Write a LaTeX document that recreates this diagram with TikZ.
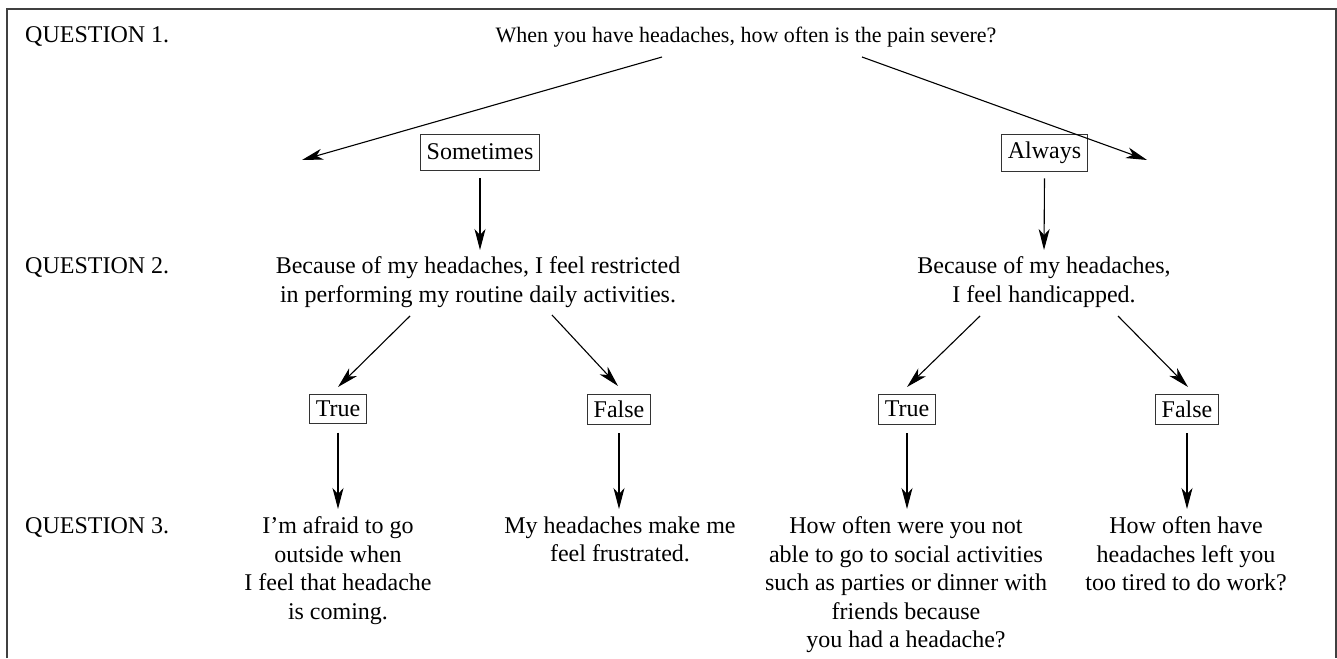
\documentclass[tikz,border=0pt]{standalone}
\usepackage{fontspec}
\setmainfont{Liberation Serif}
\usetikzlibrary{arrows.meta}
\begin{document}
\begin{tikzpicture}[x=1pt,y=-1pt,
  txt/.style={align=center,inner sep=0pt,font=\fontsize{24}{28.5}\selectfont},
  lbl/.style={anchor=base west,inner sep=0pt,font=\fontsize{24}{28.5}\selectfont},
  ans/.style={draw=black!80,line width=0.9pt,inner xsep=6.5pt,inner ysep=2pt,font=\fontsize{24}{28.5}\selectfont},
  arr/.style={line width=1.1pt,-{Stealth[length=21pt,width=11pt,inset=6pt]}},
  frame/.style={line width=1.3pt,draw=black!75}]
\useasboundingbox (0,0) rectangle (1337,658);
% frame (open at the bottom)
\coordinate (fbl) at (7,658);
\coordinate (ftl) at (7,9);
\coordinate (ftr) at (1336,9);
\coordinate (fbr) at (1336,658);
\draw[frame] (fbl) -- (ftl) -- (ftr) -- (fbr);
% row labels
\node[lbl] (l1) at (25,43) {QUESTION 1.};
\node[lbl] (l2) at (25,273) {QUESTION 2.};
\node[lbl] (l3) at (25,533) {QUESTION 3.};
% question 1
\node[txt,anchor=base,font=\fontsize{22}{26}\selectfont] (q1) at (746,43) {When you have headaches, how often is the pain severe?};
\node[ans,minimum height=36pt] (some) at (480,152) {Sometimes};
\node[ans,minimum height=37pt] (alw) at (1044.5,152.5) {Always};
% question 2
\node[txt,anchor=north] (q2a) at (478,256.6) {Because of my headaches, I feel restricted\\in performing my routine daily activities.};
\node[txt,anchor=north] (q2b) at (1044,256.6) {Because of my headaches,\\I feel handicapped.};
\node[ans,minimum height=29pt] (t1) at (338,408.7) {True};
\node[ans,minimum height=30pt] (f1) at (619,409) {False};
\node[ans,minimum height=30pt] (t2) at (907,409) {True};
\node[ans,minimum height=30pt] (f2) at (1187,409) {False};
% question 3
\node[txt,anchor=north] (q3a) at (338,516.6) {I'm afraid to go\\outside when\\I feel that headache\\is coming.};
\node[txt,anchor=north] (q3b) at (620,516.6) {My headaches make me\\feel frustrated.};
\node[txt,anchor=north] (q3c) at (906,516.6) {How often were you not\\able to go to social activities\\such as parties or dinner with\\friends because\\you had a headache?};
\node[txt,anchor=north] (q3d) at (1186,516.6) {How often have\\headaches left you\\too tired to do work?};
% connector end points
\coordinate (a1s) at (662,57);  \coordinate (a1e) at (302,160);
\coordinate (a2s) at (862,57);  \coordinate (a2e) at (1147,160);
\coordinate (b1s) at (410,316); \coordinate (b1e) at (338,387);
\coordinate (b2s) at (552,315); \coordinate (b2e) at (618,386);
\coordinate (b3s) at (980,316); \coordinate (b3e) at (907,387);
\coordinate (b4s) at (1118,316);\coordinate (b4e) at (1188,387);
\coordinate (s2) at (480,250);
\coordinate (w2) at (1044,250);
\coordinate (t1e) at (338,509);
\coordinate (f1e) at (619,509);
\coordinate (t2e) at (907,509);
\coordinate (f2e) at (1187,509);
% connectors
\draw[arr] (a1s) -- (a1e);
\draw[arr] (a2s) -- (a2e);
\draw[arr] ([yshift=-8pt]some.south) -- (s2);
\draw[arr] ([yshift=-7pt]alw.south) -- (w2);
\draw[arr] (b1s) -- (b1e);
\draw[arr] (b2s) -- (b2e);
\draw[arr] (b3s) -- (b3e);
\draw[arr] (b4s) -- (b4e);
\draw[arr] ([yshift=-9pt]t1.south) -- (t1e);
\draw[arr] ([yshift=-9pt]f1.south) -- (f1e);
\draw[arr] ([yshift=-9pt]t2.south) -- (t2e);
\draw[arr] ([yshift=-9pt]f2.south) -- (f2e);
\end{tikzpicture}
\end{document}
